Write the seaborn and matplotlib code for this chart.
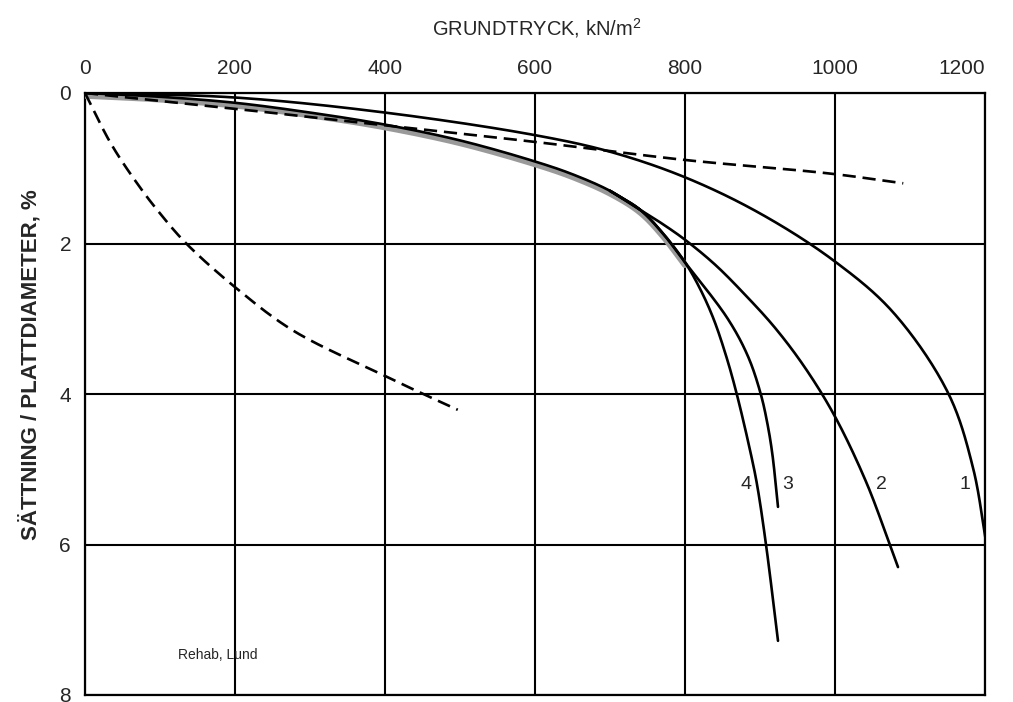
import matplotlib
matplotlib.use("Agg")
import matplotlib.pyplot as plt
import seaborn as sns
import numpy as np
import pandas as pd

# ---- data ----
x_ticks = [0, 200, 400, 600, 800, 1000, 1200]
y_ticks = [0, 2, 4, 6, 8]

# common early part of curves 2-4
bundle_x = [0, 100, 200, 300, 400, 500, 600, 650, 700, 740]
bundle_y = [0, 0.05, 0.13, 0.26, 0.42, 0.63, 0.91, 1.08, 1.30, 1.55]

c1_x = [0, 200, 400, 600, 700, 800, 900, 1000, 1078, 1151, 1184, 1202]
c1_y = [0, 0.06, 0.26, 0.56, 0.78, 1.12, 1.60, 2.24, 2.92, 3.99, 4.98, 6.0]

c2_x = [700, 740, 770, 800, 840, 880, 920, 960, 1000, 1042, 1073, 1084]
c2_y = [1.30, 1.55, 1.74, 1.95, 2.28, 2.68, 3.12, 3.65, 4.30, 5.18, 6.0, 6.3]

c3_x = [700, 740, 770, 800, 857, 884, 901, 910, 916.5, 924]
c3_y = [1.30, 1.55, 1.86, 2.25, 3.0, 3.5, 4.0, 4.4, 4.8, 5.5]

c4_x = [700, 740, 770, 800, 820, 838, 855, 869, 887, 896, 908, 924]
c4_y = [1.30, 1.55, 1.86, 2.25, 2.6, 3.0, 3.5, 4.0, 4.76, 5.2, 6.0, 7.28]

d1_x = [0, 200, 400, 600, 800, 993, 1091]
d1_y = [0, 0.21, 0.43, 0.65, 0.89, 1.07, 1.20]

d2_x = [0, 35, 73, 100, 135, 200, 278, 400, 451, 497]
d2_y = [0, 0.68, 1.25, 1.60, 2.0, 2.58, 3.16, 3.76, 4.0, 4.21]

curve_labels = ["1", "2", "3", "4"]
label_x = [1173, 1062, 937, 881]
label_y = [5.2, 5.2, 5.2, 5.2]

title_text = "GRUNDTRYCK, kN/m$^2$"
ylabel_text = "SÄTTNING / PLATTDIAMETER, %"
note_text = "Rehab, Lund"

# ---- style ----
sns.set_style("white")
plt.rcParams["font.family"] = ["Liberation Sans", "DejaVu Sans"]
plt.rcParams["mathtext.fontset"] = "custom"
plt.rcParams["mathtext.rm"] = "Liberation Sans"

fig = plt.figure(figsize=(10.13, 7.02), dpi=100)
ax = fig.add_axes([85 / 1013, 7 / 702, 900 / 1013, 602 / 702])

lw = 1.9


def smooth(xs, ys, per=30):
    """Centripetal Catmull-Rom through the read points (in pixel-like scale)."""
    P = np.column_stack([np.asarray(xs, float) * 0.75, np.asarray(ys, float) * 75.0])
    P = np.vstack([2 * P[0] - P[1], P, 2 * P[-1] - P[-2]])
    out = []
    for i in range(1, len(P) - 2):
        p0, p1, p2, p3 = P[i - 1], P[i], P[i + 1], P[i + 2]
        t0 = 0.0
        t1 = t0 + np.linalg.norm(p1 - p0) ** 0.5 + 1e-9
        t2 = t1 + np.linalg.norm(p2 - p1) ** 0.5 + 1e-9
        t3 = t2 + np.linalg.norm(p3 - p2) ** 0.5 + 1e-9
        t = np.linspace(t1, t2, per)[:, None]
        a1 = (t1 - t) / (t1 - t0) * p0 + (t - t0) / (t1 - t0) * p1
        a2 = (t2 - t) / (t2 - t1) * p1 + (t - t1) / (t2 - t1) * p2
        a3 = (t3 - t) / (t3 - t2) * p2 + (t - t2) / (t3 - t2) * p3
        b1 = (t2 - t) / (t2 - t0) * a1 + (t - t0) / (t2 - t0) * a2
        b2 = (t3 - t) / (t3 - t1) * a2 + (t - t1) / (t3 - t1) * a3
        c = (t2 - t) / (t2 - t1) * b1 + (t - t1) / (t2 - t1) * b2
        out.append(c if i == 1 else c[1:])
    C = np.vstack(out)
    return C[:, 0] / 0.75, C[:, 1] / 75.0


def draw(xs, ys, dy=0.0, **kw):
    sx, sy = smooth(xs, ys)
    df = pd.DataFrame({"x": sx, "y": sy + dy})
    sns.lineplot(data=df, x="x", y="y", sort=False, estimator=None, ax=ax, **kw)


# grey band along the common part of curves 2-4
draw(bundle_x + [770, 800], bundle_y + [1.86, 2.25], dy=0.035,
     color="#9a9a9a", linewidth=4.5, zorder=3)

draw(bundle_x, bundle_y, color="black", linewidth=lw, zorder=4)
draw(c1_x, c1_y, color="black", linewidth=lw, zorder=4)
draw(c2_x, c2_y, color="black", linewidth=lw, zorder=4)
draw(c3_x, c3_y, color="black", linewidth=lw, zorder=4)
draw(c4_x, c4_y, color="black", linewidth=lw, zorder=4)
draw(d1_x, d1_y, color="black", linewidth=lw, linestyle=(0, (5, 2.6)), zorder=4)
draw(d2_x, d2_y, color="black", linewidth=lw, linestyle=(0, (5, 2.6)), zorder=4)

for t, lx, ly in zip(curve_labels, label_x, label_y):
    ax.text(lx, ly, t, fontsize=14, ha="center", va="center", zorder=5)

ax.text(177, 7.47, note_text, fontsize=10, ha="center", va="center")

ax.set_xlim(0, 1200)
ax.set_ylim(8, 0)
ax.set_xticks(x_ticks)
ax.set_yticks(y_ticks)
ax.xaxis.tick_top()
ax.set_xticklabels([str(v) for v in x_ticks], fontsize=15)
ax.set_yticklabels([str(v) for v in y_ticks], fontsize=15)
lbls = ax.get_xticklabels()
lbls[-1].set_horizontalalignment("right")
lbls[-1].set_x(1203)
ax.tick_params(axis="x", length=0, pad=11)
ax.tick_params(axis="y", length=0, pad=10)
ax.set_xlabel("")
ax.set_ylabel("")
ax.grid(True, color="black", linewidth=1.5)
ax.set_axisbelow(True)
for s in ax.spines.values():
    s.set_color("black")
    s.set_linewidth(1.6)

fig.text(537 / 1013, 1 - 28 / 702, title_text, fontsize=14.5, ha="center", va="center")
fig.text(30 / 1013, 1 - 365 / 702, ylabel_text, fontsize=16, fontweight="bold",
         rotation=90, ha="center", va="center")

fig.savefig("out.png", dpi=100)
